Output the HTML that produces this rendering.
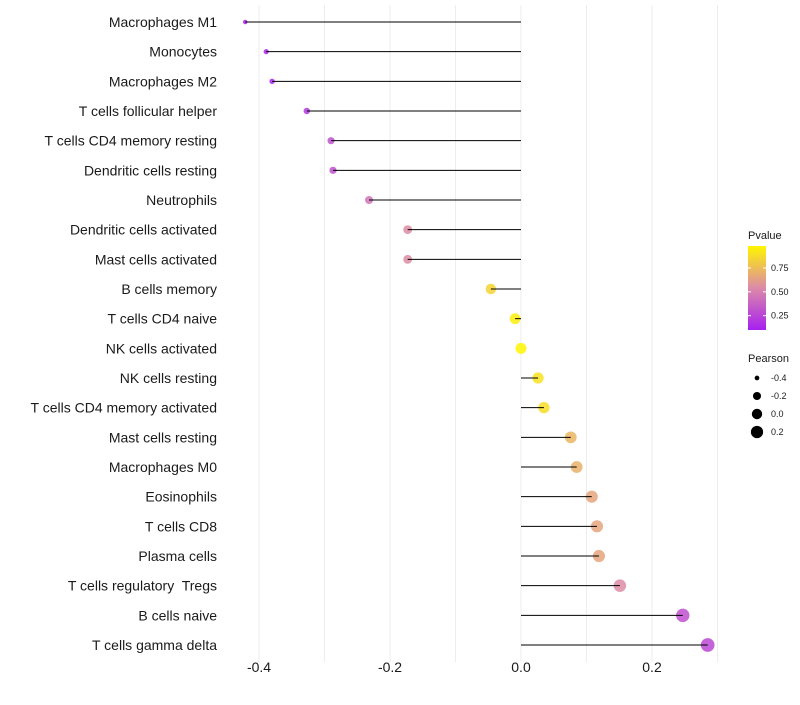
<!DOCTYPE html>
<html><head><meta charset="utf-8"><style>
body{margin:0;background:#fff;font-family:"Liberation Sans",sans-serif}
svg text{font-family:"Liberation Sans",sans-serif;white-space:pre}
</style></head><body>
<svg id="chart" width="800" height="700" xmlns="http://www.w3.org/2000/svg">
<g id="grid"></g><g id="marks"></g><g id="labels"></g><g id="legend"></g>
</svg>
<script>
const categories=["Macrophages M1","Monocytes","Macrophages M2","T cells follicular helper","T cells CD4 memory resting","Dendritic cells resting","Neutrophils","Dendritic cells activated","Mast cells activated","B cells memory","T cells CD4 naive","NK cells activated","NK cells resting","T cells CD4 memory activated","Mast cells resting","Macrophages M0","Eosinophils","T cells CD8","Plasma cells","T cells regulatory  Tregs","B cells naive","T cells gamma delta"];
const pearson=[-0.421,-0.389,-0.380,-0.327,-0.290,-0.287,-0.232,-0.173,-0.173,-0.046,-0.009,0.0,0.026,0.035,0.076,0.085,0.108,0.116,0.119,0.151,0.247,0.285];
const pvalues=[0.08,0.12,0.13,0.2,0.3,0.3,0.45,0.55,0.55,0.85,0.95,0.98,0.9,0.88,0.72,0.7,0.65,0.65,0.65,0.55,0.3,0.27];
const xTicks=[-0.4,-0.2,0.0,0.2];
const xTickLabels=["-0.4","-0.2","0.0","0.2"];
const legendP=[0.25,0.5,0.75];
const legendPLabels=["0.25","0.50","0.75"];
const legendSize=[-0.4,-0.2,0.0,0.2];
const legendSizeLabels=["-0.4","-0.2","0.0","0.2"];
const NS="http://www.w3.org/2000/svg";
const x=v=>521+v*655;
const y=i=>22+i*29.667;
const rad=v=>Math.sqrt(Math.max(3,30+59.6*v));
function lerp(a,b,t){return a.map((c,i)=>Math.round(c+(b[i]-c)*t));}
function col(p){const lo=[166,32,240],mid=[220,138,168],hi=[255,245,0];
 const t=(p-0.1)/0.88;const c=t<0.5?lerp(lo,mid,Math.max(0,t)*2):lerp(mid,hi,Math.min(1,(t-0.5)*2));return `rgb(${c.join(',')})`;}
function mk(tag,at,parent){const e=document.createElementNS(NS,tag);for(const k in at)e.setAttribute(k,at[k]);parent.appendChild(e);return e;}
const grid=document.getElementById('grid'),marks=document.getElementById('marks'),labels=document.getElementById('labels'),legend=document.getElementById('legend');
[-0.4,-0.3,-0.2,-0.1,0,0.1,0.2,0.3].forEach(v=>{const l=mk('line',{x1:x(v),x2:x(v),y1:5,y2:662,stroke:'#ededed','stroke-width':1},grid);

});
categories.forEach((c,i)=>{
 const t=mk('text',{x:217,y:y(i)+5,'text-anchor':'end','font-size':14,fill:'#1a1a1a'},labels);t.textContent=c;
 
 
 const p=mk('circle',{cx:x(pearson[i]),cy:y(i),r:rad(pearson[i]),fill:col(pvalues[i]),'fill-opacity':0.85},marks);
 
 
 const s=mk('line',{x1:x(0),x2:x(pearson[i]),y1:y(i),y2:y(i),stroke:'#000','stroke-width':1},marks);
 
 
});
xTicks.forEach((v,i)=>{const t=mk('text',{x:x(v),y:672,'text-anchor':'middle','font-size':14,fill:'#1a1a1a'},labels);t.textContent=xTickLabels[i];

});
const defs=mk('defs',{},legend);const g=mk('linearGradient',{id:'pg',x1:0,y1:1,x2:0,y2:0},defs);
for(let k=0;k<=10;k++){const p=0.1+0.88*k/10;mk('stop',{offset:k/10,'stop-color':col(p)},g);}
const lt=mk('text',{x:748,y:239,'font-size':11,fill:'#1a1a1a'},legend);lt.textContent='Pvalue';


const bar=mk('rect',{x:748,y:246,width:18,height:84,fill:'url(#pg)'},legend);


const py=p=>330-(p-0.1)/0.88*84;
legendP.forEach((p,i)=>{const t=mk('text',{x:771,y:py(p)+3,'font-size':9,fill:'#1a1a1a'},legend);t.textContent=legendPLabels[i];


mk('line',{x1:748,x2:751,y1:py(p),y2:py(p),stroke:'#fff'},legend);mk('line',{x1:763,x2:766,y1:py(p),y2:py(p),stroke:'#fff'},legend);});
const st=mk('text',{x:748,y:362,'font-size':11,fill:'#1a1a1a'},legend);st.textContent='Pearson';


legendSize.forEach((v,i)=>{const cy=378+i*18;const c=mk('circle',{cx:757,cy:cy,r:rad(v)*0.95,fill:'#000'},legend);


const t=mk('text',{x:771,y:cy+3,'font-size':9,fill:'#1a1a1a'},legend);t.textContent=legendSizeLabels[i];

});
</script>
</body></html>
